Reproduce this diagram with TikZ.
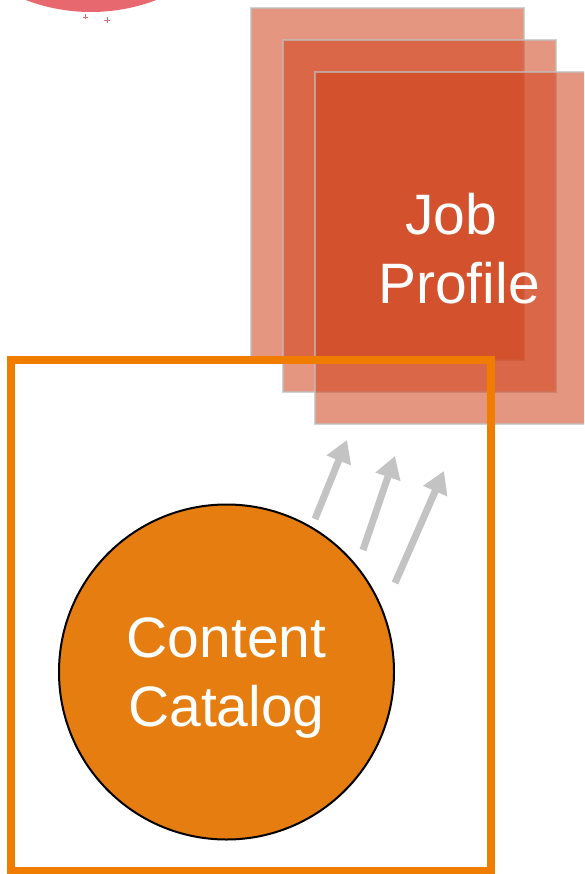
\documentclass[tikz,border=0pt]{standalone}
\usepackage{fontspec}
\setmainfont{Liberation Sans}
\usepackage{tikz}
\usetikzlibrary{arrows.meta}
\definecolor{catorange}{RGB}{229,125,16}
\definecolor{frameorange}{RGB}{240,124,0}
\definecolor{sheetred}{RGB}{208,64,24}
\definecolor{blobred}{RGB}{231,104,110}
\definecolor{flowgray}{RGB}{195,195,195}

\begin{document}
\begin{tikzpicture}[x=1pt,y=-1pt,
  sheet/.style={draw=black!25, draw opacity=0.7, line width=2pt, fill=sheetred, fill opacity=0.55, minimum width=273, minimum height=352, inner sep=0pt},
  flow/.style={draw=flowgray, line width=7pt, -{Triangle[width=25pt,length=22pt]}},
  bigtext/.style={text=white, align=center, font=\fontsize{57}{69}\selectfont}]
\useasboundingbox (0,0) rectangle (584,874);
\clip (0,0) rectangle (584,874);

\fill[blobred] (91,-171) circle (183pt);
\draw[blobred, line width=0.8pt] (83,17)--(88,17) (85.5,14.5)--(85.5,19.5);
\draw[blobred, line width=0.8pt] (104,20)--(110,20) (107,17)--(107,23);

\node[sheet] (sheetA) at (387,184) {};
\node[sheet] (sheetB) at (419,216) {};
\node[sheet] (sheetC) at (451,248) {};
\node[bigtext] (profile) at (459,248.5) {Job\hspace*{16pt}\\Profile};

\foreach \ax/\ay/\bx/\by [count=\i] in {315/519/347/440, 363/550/395/456, 395/583/444/471}{
  \coordinate (tail\i) at (\ax,\ay);
  \coordinate (head\i) at (\bx,\by);
  \draw[flow] (tail\i) -- (head\i);
}

\draw[frameorange, line width=8pt] (11,360) rectangle (491,871);

\node[circle, draw=black, line width=2pt, fill=catorange, minimum size=335, inner sep=0pt, text depth=0pt, bigtext] (catalog) at (226.5,672) {Content\\Catalog};

\end{tikzpicture}
\end{document}
